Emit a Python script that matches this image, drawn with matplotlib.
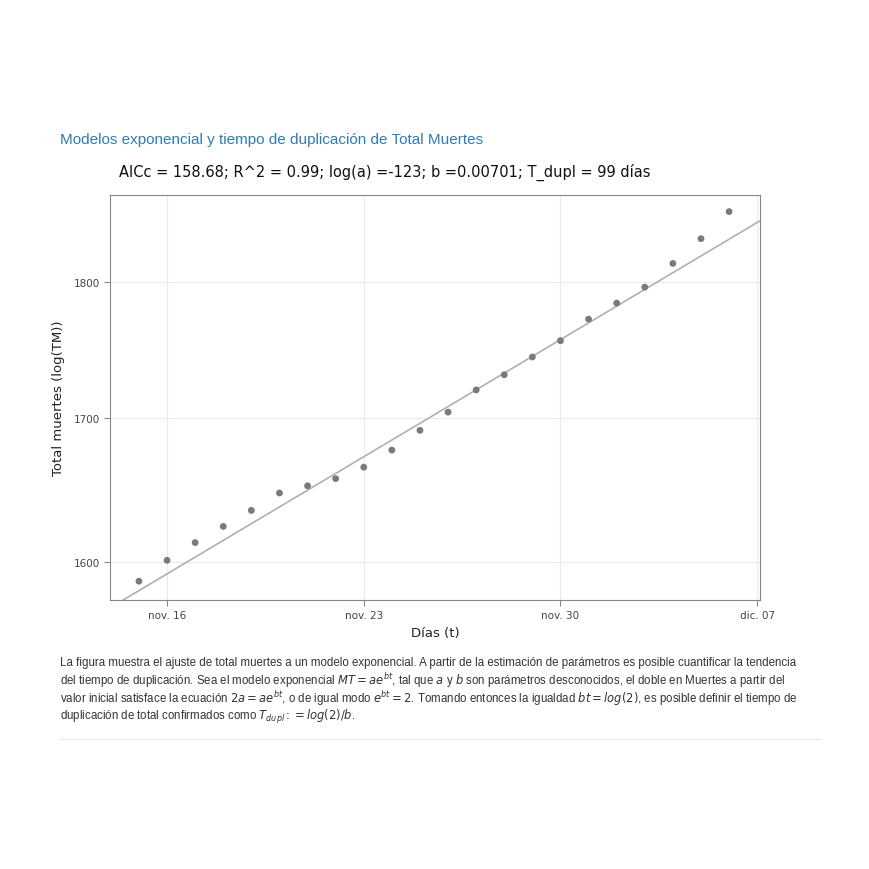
import matplotlib
matplotlib.use("Agg")
import matplotlib.pyplot as plt
import numpy as np
import datetime as dt
from matplotlib.ticker import FixedLocator, NullLocator

start = dt.datetime(2020, 11, 15)
days = list(range(22))
dates = [start + dt.timedelta(days=d) for d in days]
deaths = [1587, 1601, 1613, 1624, 1635, 1647, 1652, 1657, 1665, 1677, 1691,
          1704, 1720, 1731, 1744, 1756, 1772, 1784, 1796, 1814, 1833, 1854]
xtick_dates = [dt.datetime(2020, 11, 16), dt.datetime(2020, 11, 23), dt.datetime(2020, 11, 30), dt.datetime(2020, 12, 7)]
xtick_labels = ["nov. 16", "nov. 23", "nov. 30", "dic. 07"]
yticks = [1600, 1700, 1800]

fig = plt.figure(figsize=(8.7, 8.7), dpi=100)
W = H = 870
ax = fig.add_axes([110/W, 1-601/H, 650/W, 405/H])

b, loga = np.polyfit(days, np.log(deaths), 1)
tl = np.array([-1.1, 22.2])
ax.plot([start + dt.timedelta(days=float(t)) for t in tl], np.exp(loga + b*tl - 0.002),
        color="#b0b0b0", lw=1.2, zorder=2)
ax.scatter(dates, deaths, s=24, color="#7a7a7a", zorder=3, edgecolors="none")

ax.set_yscale("log")
ax.set_ylim(1574.5, 1867)
ax.set_xlim(dt.datetime(2020, 11, 13) + dt.timedelta(days=0.97),
            dt.datetime(2020, 12, 7) + dt.timedelta(days=0.1))
ax.yaxis.set_major_locator(FixedLocator(yticks))
ax.yaxis.set_minor_locator(NullLocator())
ax.set_yticklabels([str(v) for v in yticks])
ax.set_xticks(xtick_dates)
ax.set_xticklabels(xtick_labels)
ax.grid(True, color="#ebebeb", lw=0.9)
ax.set_axisbelow(True)
for s in ax.spines.values():
    s.set_color("#888888")
ax.tick_params(colors="#444444", labelsize=7.5, length=4, color="#888888")
ax.set_xlabel("Días (t)", fontsize=9.5, color="#222222", labelpad=4)
ax.set_ylabel("Total muertes (log(TM))", fontsize=9.5, color="#222222", labelpad=6)

fig.text(60/W, 1-140/H, "Modelos exponencial y tiempo de duplicación de Total Muertes",
         fontsize=11, color="#2f7bb5", va="center", family="Liberation Sans")
fig.text(385/W, 1-172/H, "AICc = 158.68; R^2 = 0.99; log(a) =-123; b =0.00701; T_dupl = 99 días",
         fontsize=10.5, color="#111111", va="center", ha="center")

lines = [
    "La figura muestra el ajuste de total muertes a un modelo exponencial. A partir de la estimación de parámetros es posible cuantificar la tendencia",
    r"del tiempo de duplicación. Sea el modelo exponencial $MT = ae^{bt}$, tal que $a$ y $b$ son parámetros desconocidos, el doble en Muertes a partir del",
    r"valor inicial satisface la ecuación $2a = ae^{bt}$, o de igual modo $e^{bt} = 2$. Tomando entonces la igualdad $bt = log(2)$, es posible definir el tiempo de",
    r"duplicación de total confirmados como $T_{dupl} := log(2)/b$.",
]
for i, t in enumerate(lines):
    fig.text(60/W, 1-(663 + i*18)/H, t, fontsize=8.3, color="#333333", va="center",
             family="Liberation Sans")
fig.add_artist(plt.Line2D([60/W, 820/W], [1-740/H, 1-740/H], color="#e5e5e5", lw=0.8))

fig.savefig("out.png", dpi=100, facecolor="white")
